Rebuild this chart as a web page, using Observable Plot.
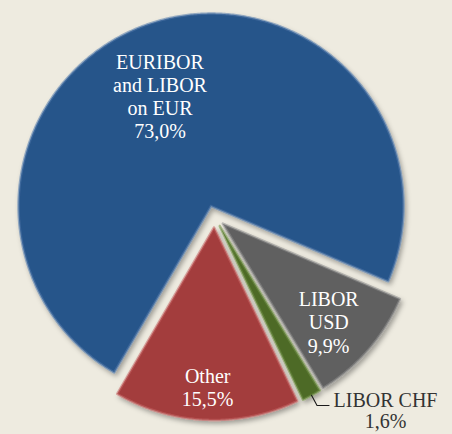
<!DOCTYPE html>
<html>
<head>
<meta charset="utf-8">
<script src="https://cdn.jsdelivr.net/npm/d3@7"></script>
<script src="https://cdn.jsdelivr.net/npm/@observablehq/plot@0.6"></script>
<style>
  html, body { margin: 0; padding: 0; background: #eeebe0; }
  #chart { width: 452px; height: 434px; overflow: hidden; }
  #chart svg text { font-family: "Liberation Serif", serif !important; }
</style>
</head>
<body>
<div id="chart"></div>
<script>
// ---- data ----
const names  = ["EURIBOR and LIBOR on EUR", "LIBOR USD", "LIBOR CHF", "Other"];
const labels = ["EURIBOR\nand LIBOR\non EUR\n73,0%", "LIBOR\nUSD\n9,9%", "LIBOR CHF\n1,6%", "Other\n15,5%"];
const shares = [73.0, 9.9, 1.6, 15.5];
const colors = ["#28558a", "#606060", "#4e6b27", "#a33c3c"];
const rims   = ["#4f78ab", "#8a8a8a", "#6f8f45", "#c46262"];
const inside = [true, true, false, true];
// label placement (fraction of radius, angle shift in degrees)
const labelRadius = [0.63, 0.75, 1.06, 0.83];
const labelTurn   = [-6.5, 2, 0, 0];

// ---- layout ----
const W = 452, H = 434;
const cx = 214, cy = 216, R = 192.5;   // pixel centre and radius
const explode = 0.057;                  // in radius units
const deg = Math.PI / 180;
const startAngle = 210.2 * deg;
const serif = "Liberation Serif";

const pie = d3.pie().sort(null).value(d => d.share)
  .startAngle(startAngle).endAngle(startAngle + 2 * Math.PI);
const rows = names.map((n, i) => ({name: n, label: labels[i], share: shares[i], color: colors[i], rim: rims[i], inside: inside[i], lr: labelRadius[i], lt: labelTurn[i]}));
const arcs = pie(rows);

const polys = [];
const labelPts = [];
const leader = [];
arcs.forEach(a => {
  const mid = (a.startAngle + a.endAngle) / 2;
  const ox = explode * Math.sin(mid), oy = explode * Math.cos(mid);
  const pts = [{name: a.data.name, x: ox, y: oy}];
  const n = Math.max(3, Math.ceil((a.endAngle - a.startAngle) / deg * 2));
  for (let k = 0; k <= n; k++) {
    const t = a.startAngle + (a.endAngle - a.startAngle) * k / n;
    pts.push({name: a.data.name, x: ox + Math.sin(t), y: oy + Math.cos(t)});
  }
  pts.push({name: a.data.name, x: ox, y: oy});
  polys.push(...pts);
  const la = mid + a.data.lt * deg;
  if (a.data.inside) {
    labelPts.push({label: a.data.label, x: ox + a.data.lr * Math.sin(la), y: oy + a.data.lr * Math.cos(la), inside: true});
  } else {
    const p0 = {x: ox + Math.sin(la), y: oy + Math.cos(la)};
    const p1 = {x: ox + a.data.lr * Math.sin(la), y: oy + a.data.lr * Math.cos(la)};
    const p2 = {x: p1.x + 12 / R, y: p1.y};
    leader.push(p0, p1, p2);
    labelPts.push({label: a.data.label, x: p2.x, y: p2.y, inside: false});
  }
});

const plot = Plot.plot({
  width: W, height: H, margin: 0,
  x: {domain: [-cx / R, (W - cx) / R], axis: null},
  y: {domain: [-(H - cy) / R, cy / R], axis: null},
  color: {domain: names, range: colors},
  style: {background: "#eeebe0", overflow: "hidden", fontFamily: serif},
  marks: [
    Plot.line(polys, {x: "x", y: "y", z: "name", fill: "name", stroke: d => rows.find(r => r.name === d.name).rim, strokeWidth: 2.5, strokeOpacity: 0.55, curve: "linear"}),
    Plot.line(leader, {x: "x", y: "y", stroke: "#1a1a1a", strokeWidth: 1.1}),
    Plot.text(labelPts.filter(d => d.inside), {x: "x", y: "y", text: "label", fill: "white", fontSize: 20, lineHeight: 1.165, fontFamily: serif}),
    Plot.text(labelPts.filter(d => !d.inside), {x: "x", y: "y", text: "label", fill: "#333333", fontSize: 20, lineHeight: 1.05, textAnchor: "middle", dx: 56.5, dy: 5, fontFamily: serif})
  ]
});
document.getElementById("chart").appendChild(plot);

// soft drop shadow for the slices
const svg = d3.select(plot);
const defs = svg.insert("defs", ":first-child");
const f = defs.append("filter").attr("id", "sliceShadow").attr("x", "-10%").attr("y", "-10%").attr("width", "130%").attr("height", "130%");
f.append("feDropShadow").attr("dx", 2).attr("dy", 3).attr("stdDeviation", 2.5).attr("flood-color", "#000").attr("flood-opacity", 0.35);
svg.select("g[aria-label='line']").attr("filter", "url(#sliceShadow)");
</script>
</body>
</html>
